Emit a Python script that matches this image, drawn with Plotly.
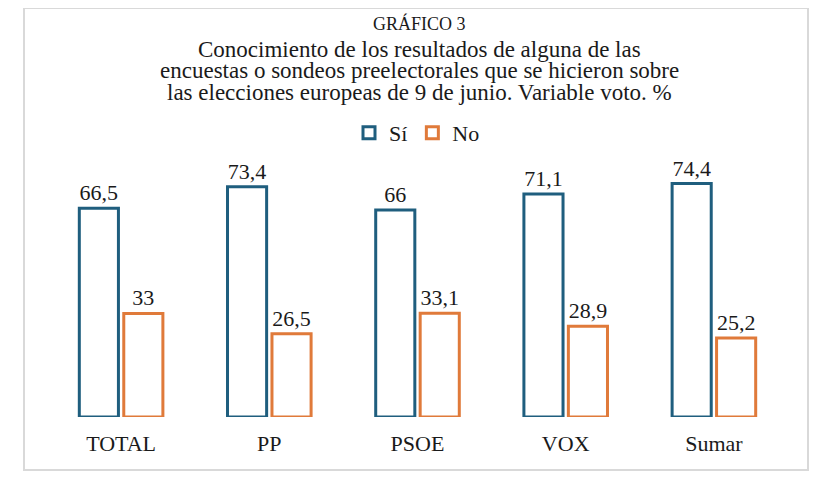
import plotly.graph_objects as go

# Data
categorias = ["TOTAL", "PP", "PSOE", "VOX", "Sumar"]
si = [66.5, 73.4, 66, 71.1, 74.4]
no = [33, 26.5, 33.1, 28.9, 25.2]
etiquetas_si = ["66,5", "73,4", "66", "71,1", "74,4"]
etiquetas_no = ["33", "26,5", "33,1", "28,9", "25,2"]

W, H = 839, 481
OFF = 8  # page body margin offsets the figure
ML, MR, MT, MB = 47 - OFF, W - (788 - OFF), 166 - OFF, H - (417 - OFF)
pw, ph = W - ML - MR, H - MT - MB

def px_x(x):
    return (x - OFF - ML) / pw

def px_y(y):
    return (H - MB - (y - OFF)) / ph

FONT = "Liberation Serif"
AZUL = "#1F5E7E"
NARANJA = "#E07A3A"
TXT = "#1a1a1a"

fig = go.Figure()
fig.add_trace(go.Bar(
    name="Sí", x=categorias, y=si, text=etiquetas_si,
    textposition="outside", cliponaxis=False,
    marker=dict(color="white", line=dict(color=AZUL, width=3)),
    textfont=dict(size=22, color=TXT, family=FONT),
))
fig.add_trace(go.Bar(
    name="No", x=categorias, y=no, text=etiquetas_no,
    textposition="outside", cliponaxis=False,
    marker=dict(color="white", line=dict(color=NARANJA, width=3)),
    textfont=dict(size=22, color=TXT, family=FONT),
))

# frame around the whole chart
fig.add_shape(type="rect", xref="paper", yref="paper",
              x0=px_x(24), x1=px_x(808), y0=px_y(470), y1=px_y(8),
              line=dict(color="#D9D9D9", width=2), fillcolor="rgba(0,0,0,0)", layer="below")

titulo = [
    ("GRÁFICO 3", 18, 23),
    ("Conocimiento de los resultados de alguna de las", 23, 50),
    ("encuestas o sondeos preelectorales que se hicieron sobre", 23, 71),
    ("las elecciones europeas de 9 de junio. Variable voto. %", 23, 92),
]
for texto, tam, yy in titulo:
    fig.add_annotation(text=texto, xref="paper", yref="paper", x=px_x(419), y=px_y(yy),
                       xanchor="center", yanchor="middle", showarrow=False,
                       font=dict(size=tam, color=TXT, family=FONT))

fig.update_layout(
    width=W, height=H,
    margin=dict(l=ML, r=MR, t=MT, b=MB),
    paper_bgcolor="white", plot_bgcolor="white",
    font=dict(family=FONT, color=TXT, size=22),
    barmode="group", bargap=0.4, bargroupgap=0.12,
    showlegend=True,
    legend=dict(orientation="h", x=px_x(417), y=px_y(133), xanchor="center", yanchor="middle",
                font=dict(size=22, family=FONT, color=TXT), itemwidth=30, traceorder="normal"),
    xaxis=dict(showline=False, ticks="", tickfont=dict(size=22, family=FONT, color=TXT),
               ticklabelstandoff=11),
    yaxis=dict(visible=False, range=[0, 80], showgrid=False),
)

fig.write_html("out.html")
